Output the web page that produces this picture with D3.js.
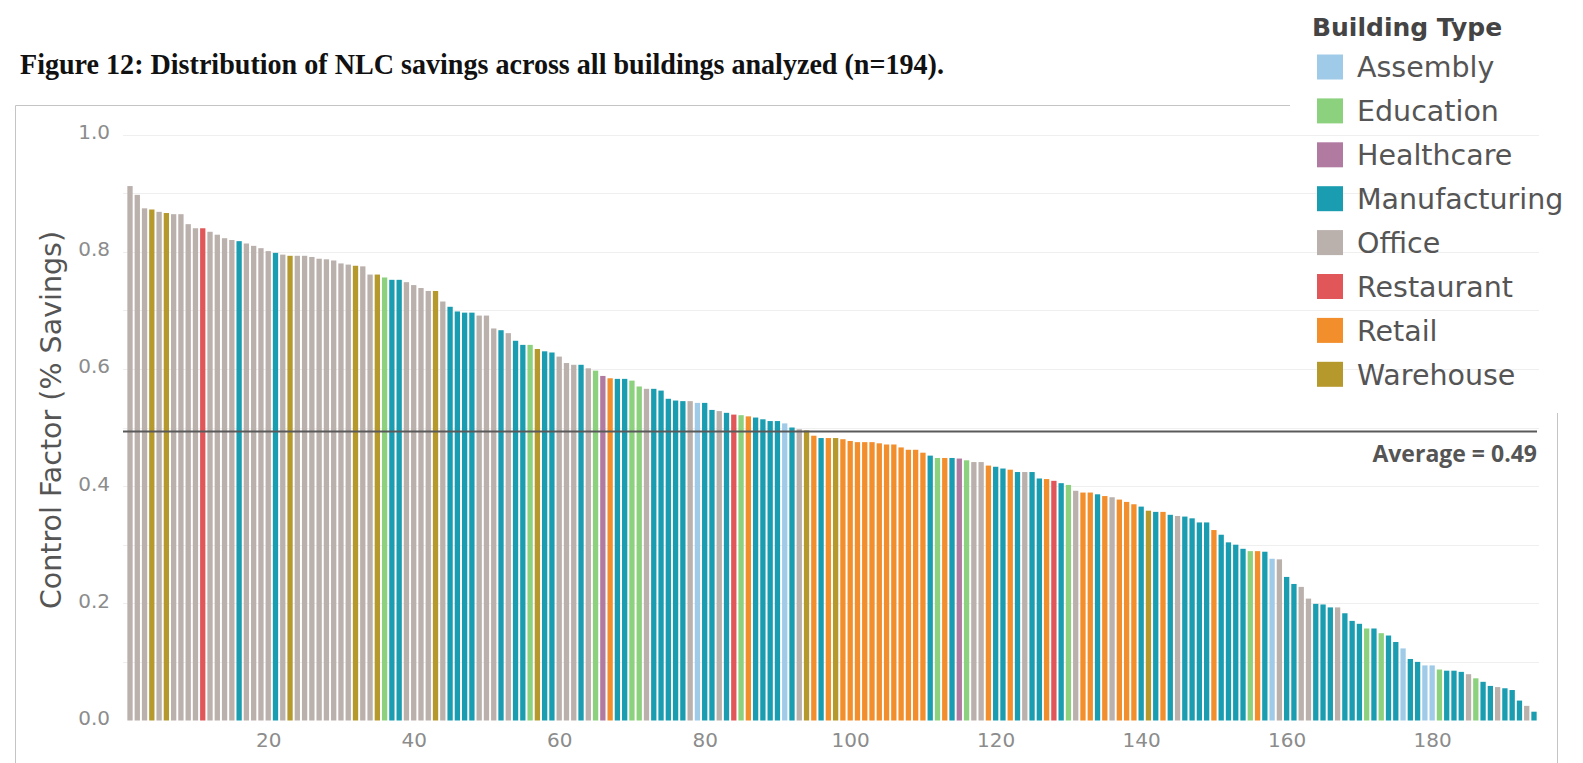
<!DOCTYPE html>
<html>
<head>
  <title>Figure 12 - NLC savings</title>
  <script src="https://d3js.org/d3.v7.min.js"></script>
  <style>
    body { margin: 0; background: #fff; }
  </style>
</head>
<body>
  <div id="chart"></div>
  <script type="text/javascript">
    // legend categories and the one-letter codes used in barTypes
    var buildingTypes = ["Assembly", "Education", "Healthcare", "Manufacturing", "Office", "Restaurant", "Retail", "Warehouse"];
    var typeCodes = ["A", "E", "H", "M", "O", "R", "L", "W"];

    // one entry per building, sorted by savings
    var barTypes = [
      "O","O","O","W","O","W","O","O","O","O", "R","O","O","O","O","M","O","O","O","O",
      "M","O","W","O","O","O","O","O","O","O", "O","W","O","O","W","E","M","M","O","O",
      "O","O","W","O","M","M","M","M","O","O", "O","M","O","M","M","E","W","M","M","O",
      "O","O","M","O","E","H","L","M","M","E", "E","O","M","M","M","M","M","O","A","M",
      "M","O","M","R","E","L","M","M","M","M", "A","M","O","W","L","M","L","W","L","L",
      "L","L","L","L","L","L","L","L","L","L", "M","E","L","M","H","E","O","O","L","M",
      "M","L","M","O","M","M","L","R","M","E", "O","L","L","M","L","O","L","L","L","M",
      "W","M","L","M","O","M","M","M","M","L", "M","M","M","M","E","L","M","A","O","M",
      "M","O","O","M","M","M","O","M","M","M", "E","M","E","M","M","A","M","M","A","A",
      "E","M","M","M","O","E","M","M","O","M", "M","M","O","M"
    ];
    var barValues = [
      0.912,0.897,0.874,0.872,0.868,0.866,0.864,0.864,0.847,0.840, 0.840,0.834,0.829,0.823,0.820,0.818,0.814,0.810,0.806,0.801,
      0.798,0.795,0.793,0.793,0.793,0.791,0.788,0.787,0.785,0.780, 0.778,0.776,0.775,0.761,0.761,0.756,0.752,0.752,0.748,0.743,
      0.738,0.733,0.733,0.715,0.706,0.698,0.696,0.696,0.691,0.691, 0.669,0.666,0.661,0.648,0.641,0.641,0.634,0.630,0.628,0.621,
      0.610,0.607,0.607,0.601,0.597,0.588,0.584,0.583,0.583,0.580, 0.570,0.566,0.566,0.563,0.549,0.546,0.545,0.545,0.542,0.542,
      0.530,0.528,0.525,0.522,0.521,0.519,0.517,0.514,0.511,0.511, 0.507,0.500,0.497,0.495,0.486,0.482,0.482,0.482,0.480,0.477,
      0.475,0.475,0.475,0.473,0.471,0.471,0.466,0.462,0.462,0.457, 0.452,0.448,0.448,0.448,0.447,0.444,0.441,0.441,0.435,0.433,
      0.430,0.428,0.424,0.424,0.424,0.413,0.412,0.409,0.405,0.402, 0.392,0.389,0.389,0.386,0.383,0.381,0.377,0.373,0.369,0.365,
      0.358,0.356,0.356,0.351,0.349,0.348,0.345,0.338,0.338,0.325, 0.317,0.304,0.300,0.293,0.289,0.289,0.288,0.276,0.275,0.245,
      0.233,0.228,0.208,0.199,0.198,0.193,0.193,0.183,0.170,0.165, 0.157,0.157,0.149,0.145,0.134,0.123,0.105,0.100,0.094,0.094,
      0.087,0.085,0.085,0.083,0.079,0.072,0.066,0.059,0.057,0.055, 0.052,0.034,0.025,0.015
    ];

    var xTicks = [20, 40, 60, 80, 100, 120, 140, 160, 180];
    var yTicks = [0, 0.2, 0.4, 0.6, 0.8, 1.0];
    var gridValues = [0.1, 0.2, 0.3, 0.4, 0.5, 0.6, 0.7, 0.8, 0.9, 1.0];
    var averageValue = 0.493;

    var titleText = "Figure 12: Distribution of NLC savings across all buildings analyzed (n=194).";

    var W = 1583, H = 763;
    var plotLeft = 123, plotRight = 1539;

    var svg = d3.select("#chart").append("svg")
      .attr("width", W)
      .attr("height", H)
      .style("display", "block");

    var x = d3.scaleLinear().domain([1, barValues.length]).range([130, 1534]);
    var y = d3.scaleLinear().domain([0, 1]).range([720.5, 134.5]);
    var color = d3.scaleOrdinal()
      .domain(typeCodes)
      .range(["#a0cbe8", "#8cd17d", "#b07aa1", "#1a9db0", "#bab0ac", "#e15759", "#f28e2b", "#b6992d"]);
    var barW = 5.3;

    // frame (partly hidden by the legend in the original)
    svg.append("path")
      .attr("d", "M15.5,763 V105.5 H1290")
      .attr("fill", "none")
      .attr("stroke", "#c4c4c4");
    svg.append("path")
      .attr("d", "M1557.5,413 V763")
      .attr("fill", "none")
      .attr("stroke", "#c4c4c4");

    // title
    svg.append("text")
      .attr("x", 20)
      .attr("y", 74)
      .attr("textLength", 924)
      .attr("lengthAdjust", "spacingAndGlyphs")
      .style("font-family", "'Liberation Serif', serif")
      .style("font-weight", "bold")
      .style("font-size", "29px")
      .style("fill", "#111")
      .text(titleText);

    // faint gridlines
    svg.append("g").selectAll("line")
      .data(gridValues)
      .enter().append("line")
      .attr("x1", plotLeft)
      .attr("x2", plotRight)
      .attr("y1", function (d) { return Math.round(y(d)) + 0.5; })
      .attr("y2", function (d) { return Math.round(y(d)) + 0.5; })
      .attr("stroke", "#efefef");

    // bars
    svg.append("g").selectAll("rect")
      .data(barValues)
      .enter().append("rect")
      .attr("x", function (d, i) { return x(i + 1) - barW / 2; })
      .attr("width", barW)
      .attr("y", function (d) { return y(d); })
      .attr("height", function (d) { return y(0) - y(d); })
      .attr("fill", function (d, i) { return color(barTypes[i]); });

    // y axis
    var yAxis = svg.append("g")
      .attr("transform", "translate(118,0)")
      .call(d3.axisLeft(y).tickValues(yTicks).tickFormat(d3.format(".1f")).tickSize(0).tickPadding(8));
    yAxis.select(".domain").remove();
    yAxis.selectAll("text")
      .attr("dy", "0.2em")
      .style("font-family", "'DejaVu Sans', sans-serif")
      .style("font-size", "20px")
      .style("fill", "#8c8c8c");

    // x axis
    var xAxis = svg.append("g")
      .attr("transform", "translate(0," + y(0) + ")")
      .call(d3.axisBottom(x).tickValues(xTicks).tickSize(0).tickPadding(12));
    xAxis.select(".domain").remove();
    xAxis.selectAll("text")
      .style("font-family", "'DejaVu Sans', sans-serif")
      .style("font-size", "20px")
      .style("fill", "#8c8c8c");

    svg.append("text")
      .attr("transform", "translate(61,420) rotate(-90)")
      .attr("text-anchor", "middle")
      .style("font-family", "'DejaVu Sans', sans-serif")
      .style("font-size", "28.5px")
      .style("fill", "#555")
      .text("Control Factor (% Savings)");

    // average reference line
    svg.append("line")
      .attr("x1", plotLeft)
      .attr("x2", 1537)
      .attr("y1", y(averageValue))
      .attr("y2", y(averageValue))
      .attr("stroke", "#5a5a5a")
      .attr("stroke-width", 2);
    svg.append("text")
      .attr("x", 1537)
      .attr("y", 462)
      .attr("text-anchor", "end")
      .style("font-family", "'Open Sans', sans-serif")
      .style("font-weight", "bold")
      .style("font-size", "23px")
      .style("fill", "#555")
      .text("Average = " + averageValue.toFixed(2));

    // legend
    var legend = svg.append("g").attr("transform", "translate(1312,0)");
    legend.append("text")
      .attr("x", 0)
      .attr("y", 36)
      .style("font-family", "'DejaVu Sans', sans-serif")
      .style("font-weight", "bold")
      .style("font-size", "25px")
      .style("fill", "#444")
      .text("Building Type");
    var items = legend.selectAll(".item")
      .data(buildingTypes)
      .enter().append("g")
      .attr("class", "item")
      .attr("transform", function (d, i) { return "translate(0," + (67 + i * 43.9) + ")"; });
    items.append("rect")
      .attr("x", 5)
      .attr("y", -12.5)
      .attr("width", 26)
      .attr("height", 25)
      .attr("fill", function (d, i) { return color(typeCodes[i]); });
    items.append("text")
      .attr("x", 45)
      .attr("y", 0)
      .attr("dy", "0.36em")
      .style("font-family", "'DejaVu Sans', sans-serif")
      .style("font-size", "28.5px")
      .style("fill", "#555")
      .text(function (d) { return d; });
  </script>
</body>
</html>
